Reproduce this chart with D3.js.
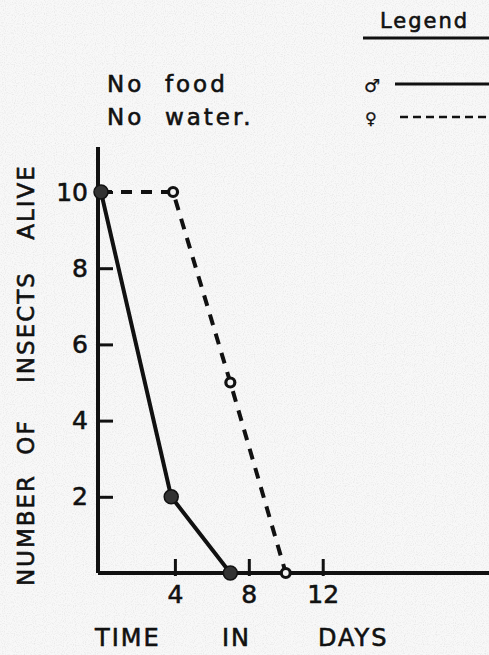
<!DOCTYPE html>
<html>
<head>
<meta charset="utf-8">
<script src="https://cdn.jsdelivr.net/npm/d3@7"></script>
<style>
  body { margin: 0; background: #f4f4f4; }
  svg { display: block; }
  text { font-family: "DejaVu Sans", sans-serif; fill: #111; stroke: #111; stroke-width: 0.6px; }
</style>
</head>
<body>
<div id="chart"></div>
<script>
// data
var maleDays = [0, 3.8, 7];
var maleAlive = [10, 2, 0];
var femaleDays = [0, 3.9, 7, 10];
var femaleAlive = [10, 10, 5, 0];
var xTicks = [4, 8, 12];
var yTicks = [2, 4, 6, 8, 10];
var yTitleWords = ["NUMBER", "OF", "INSECTS", "ALIVE"];
var yTitlePos = [530, 437, 327, 202];
var xTitleWords = ["TIME", "IN", "DAYS"];
var xTitlePos = [95, 222, 318];

var W = 489, H = 655;
var margin = {top: 147, right: 0, bottom: 82, left: 98};
var width = W - margin.left - margin.right,
    height = H - margin.top - margin.bottom;

var svg = d3.select("#chart").append("svg")
    .attr("width", W)
    .attr("height", H);

// light speckle texture
var defs = svg.append("defs");
var f = defs.append("filter").attr("id", "grain");
f.append("feTurbulence").attr("type", "fractalNoise").attr("baseFrequency", 0.9).attr("numOctaves", 1);
f.append("feColorMatrix").attr("type", "matrix")
  .attr("values", "0 0 0 0 0.55  0 0 0 0 0.55  0 0 0 0 0.55  0 0 0 -2.4 1.3");
svg.append("rect").attr("width", W).attr("height", H).attr("fill", "#f8f8f8");
svg.append("rect").attr("width", W).attr("height", H).attr("filter", "url(#grain)").attr("opacity", 0.35);

var g = svg.append("g")
    .attr("transform", "translate(" + margin.left + "," + margin.top + ")");

var x = d3.scaleLinear().domain([0, 21]).range([3, width]);
var y = d3.scaleLinear().domain([0, 10]).range([height, 45]);

// axes
var xAxis = d3.axisBottom(x).tickValues(xTicks).tickSize(-14).tickPadding(12);
var yAxis = d3.axisLeft(y).tickValues(yTicks).tickSize(-15).tickPadding(10);

var gx = g.append("g")
    .attr("transform", "translate(0," + height + ")")
    .call(xAxis);
gx.select(".domain").remove();
gx.append("line").attr("x1", 0).attr("x2", width).attr("stroke", "#111").attr("stroke-width", 4);
gx.selectAll(".tick line").attr("stroke", "#111").attr("stroke-width", 3).attr("y2", -14).attr("y1", 3);
gx.selectAll(".tick text").style("font-size", "25px").attr("font-family", null);

var gy = g.append("g").call(yAxis);
gy.select(".domain").remove();
gy.append("line").attr("y1", 0).attr("y2", height).attr("stroke", "#111").attr("stroke-width", 4);
gy.selectAll(".tick line").attr("stroke", "#111").attr("stroke-width", 3);
gy.selectAll(".tick text").style("font-size", "25px").attr("font-family", null);

// lines
var line = d3.line()
    .x(function(d) { return x(d[0]); })
    .y(function(d) { return y(d[1]); });

var female = femaleDays.map(function(d, i) { return [d, femaleAlive[i]]; });
var male = maleDays.map(function(d, i) { return [d, maleAlive[i]]; });

g.append("path").datum(female)
    .attr("d", line)
    .attr("fill", "none")
    .attr("stroke", "#111")
    .attr("stroke-width", 4)
    .attr("stroke-dasharray", "11,9");

g.append("path").datum(male)
    .attr("d", line)
    .attr("fill", "none")
    .attr("stroke", "#111")
    .attr("stroke-width", 4);

g.selectAll(".fpt").data(female.slice(1))
  .enter().append("circle")
    .attr("cx", function(d) { return x(d[0]); })
    .attr("cy", function(d) { return y(d[1]); })
    .attr("r", 4.5)
    .attr("fill", "#f4f4f4")
    .attr("stroke", "#111")
    .attr("stroke-width", 3.2);

g.selectAll(".mpt").data(male)
  .enter().append("circle")
    .attr("cx", function(d) { return x(d[0]); })
    .attr("cy", function(d) { return y(d[1]); })
    .attr("r", 7)
    .attr("fill", "#333")
    .attr("stroke", "#111")
    .attr("stroke-width", 1.5);

// axis titles
svg.selectAll(".ytitle").data(yTitleWords)
  .enter().append("text")
    .attr("transform", function(d, i) { return "translate(34," + yTitlePos[i] + ") rotate(-90)"; })
    .attr("text-anchor", "middle")
    .style("font-size", "23px")
    .style("letter-spacing", "2px")
    .text(function(d) { return d; });

svg.selectAll(".xtitle").data(xTitleWords)
  .enter().append("text")
    .attr("x", function(d, i) { return xTitlePos[i]; })
    .attr("y", 646)
    .style("font-size", "24px")
    .style("letter-spacing", "2px")
    .text(function(d) { return d; });

// notes
svg.append("text").attr("x", 107).attr("y", 92).style("font-size", "23px").style("letter-spacing", "3px")
    .attr("xml:space", "preserve").text("No  food");
svg.append("text").attr("x", 107).attr("y", 125).style("font-size", "23px").style("letter-spacing", "3px")
    .attr("xml:space", "preserve").text("No  water.");

// legend
svg.append("text").attr("x", 380).attr("y", 28).style("font-size", "21px").style("letter-spacing", "2px").text("Legend");
svg.append("line").attr("x1", 363).attr("x2", W).attr("y1", 38).attr("y2", 38).attr("stroke", "#111").attr("stroke-width", 3);
svg.append("text").attr("x", 364).attr("y", 92).style("font-size", "18px").style("stroke-width", "0.3px").text("\u2642");
svg.append("line").attr("x1", 395).attr("x2", W).attr("y1", 84).attr("y2", 84).attr("stroke", "#111").attr("stroke-width", 3);
svg.append("text").attr("x", 365).attr("y", 124).style("font-size", "16px").style("stroke-width", "0.3px").text("\u2640");
svg.append("line").attr("x1", 400).attr("x2", W).attr("y1", 117).attr("y2", 117).attr("stroke", "#111").attr("stroke-width", 2.5)
    .attr("stroke-dasharray", "8,5");
</script>
</body>
</html>
